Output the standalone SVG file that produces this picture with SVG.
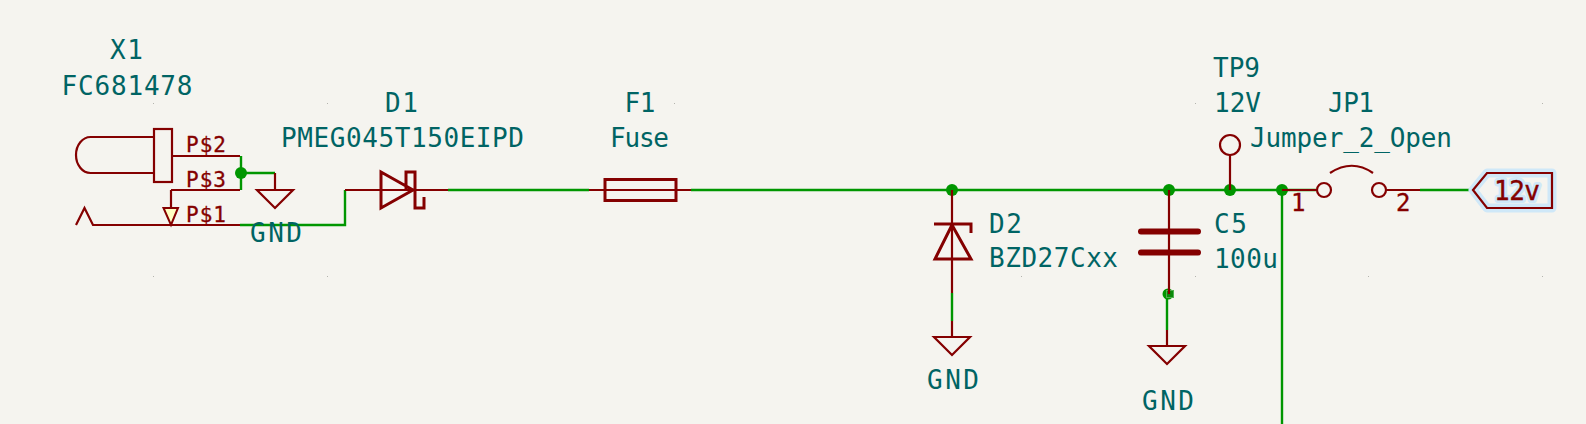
<svg xmlns="http://www.w3.org/2000/svg" width="1586" height="424" viewBox="0 0 1586 424">
<style>
.bg{fill:#f5f4ef}
.grid{fill:#b4b4ae}
.w{fill:none;stroke:#009600;stroke-width:2.400}
.r{fill:none;stroke:#840000;stroke-width:2.200}
.b{fill:none;stroke:#840000;stroke-width:3}
.j{fill:#009600}
text{font-family:"DejaVu Sans Mono","Liberation Mono",monospace}
.t{fill:#006464;font-size:26px}
.p{fill:#840000;font-size:21px;stroke:#840000;stroke-width:.3px}
.n{fill:#840000;font-size:24px;stroke:#840000;stroke-width:.3px}
.h{fill:none;stroke:#cfe8f8;stroke-width:9;stroke-linejoin:round}
.ht{fill:none;stroke:#cfe8f8;stroke-width:6;stroke-linejoin:round;font-size:26px}
.l{fill:#840000;font-size:26px;stroke:#840000;stroke-width:.4px}
</style>
<defs>
<path id="gnd" class="r" d="M-18 0H18L0 18Z"/>
</defs>
<rect class="bg" width="1586" height="424"/>
<path class="grid" d="M153 103h1v1h-1zM327 103h1v1h-1zM674 103h1v1h-1zM1195 103h1v1h-1zM1542 103h1v1h-1zM153 276h1v1h-1zM327 276h1v1h-1zM1021 276h1v1h-1zM1195 276h1v1h-1zM1368 276h1v1h-1zM1542 276h1v1h-1z"/>
<g id="connectors">
<path class="w" d="M241 156V190M241 173H275M240 225H345V190M448 190H589M691 190H1316M952 293V321M1167 294V330M1282 190V424M1420 190H1473"/>
<circle class="j" cx="241" cy="173" r="6"/>
<circle class="j" cx="952" cy="190" r="6"/>
<circle class="j" cx="1169" cy="190" r="6"/>
<circle class="j" cx="1230" cy="190" r="6"/>
<circle class="j" cx="1282" cy="190" r="6"/>
<circle class="j" cx="1168" cy="294" r="5.500"/>
<rect x="1166.500" y="290.500" width="7" height="7" fill="#0a8a0a" stroke="#4fb04f"/>
</g>
<g id="X1">
<rect class="r" x="154" y="129" width="18" height="53"/>
<path class="r" d="M154 137H90.500A14.500 18 0 0 0 90.500 173H154"/>
<path class="r" d="M172 156H240M171 190H240M171 190V225M76 225L84.500 208L93 225H240"/>
<path d="M163.500 208H178L171 225Z" fill="#ffffc2" stroke="#840000" stroke-width="2"/>
<text class="t" x="110" y="59" textLength="33">X1</text>
<text class="t" x="61.500" y="95" textLength="131">FC681478</text>
<text class="p" x="186" y="152" textLength="40">P$2</text>
<text class="p" x="186" y="187" textLength="40">P$3</text>
<text class="p" x="186" y="222" textLength="40">P$1</text>
</g>
<g id="GND1">
<path class="r" d="M275 173V190"/>
<use href="#gnd" x="275" y="190"/>
<text class="t" x="250" y="242" textLength="52">GND</text>
</g>
<g id="D1">
<path class="r" d="M345 190H448"/>
<path class="b" d="M381 172V208L413 190ZM406 190V172H415V208H424V197"/>
<text class="t" x="385" y="112" textLength="33">D1</text>
<text class="t" x="281" y="147" textLength="243">PMEG045T150EIPD</text>
</g>
<g id="F1">
<path class="r" d="M589 190H691"/>
<rect class="b" x="605" y="179.500" width="71" height="21"/>
<text class="t" x="624.500" y="112" textLength="31">F1</text>
<text class="t" x="610" y="147" textLength="59">Fuse</text>
</g>
<g id="D2">
<path class="r" d="M952 190V293M952 321V337"/>
<path class="b" d="M934 224H971V233M952 225L935 259H971Z"/>
<use href="#gnd" x="952" y="337"/>
<text class="t" x="989" y="233" textLength="33">D2</text>
<text class="t" x="989" y="267" textLength="129">BZD27Cxx</text>
<text class="t" x="927" y="389" textLength="52">GND</text>
</g>
<g id="C5">
<path class="r" d="M1169 190V294M1167 330V346"/>
<path d="M1141 231.500H1198M1141 252.500H1198" fill="none" stroke="#840000" stroke-width="6" stroke-linecap="round"/>
<use href="#gnd" x="1167" y="346"/>
<text class="t" x="1214" y="233" textLength="33">C5</text>
<text class="t" x="1214" y="268" textLength="64">100u</text>
<text class="t" x="1142" y="410" textLength="52">GND</text>
</g>
<g id="TP9">
<circle class="r" cx="1230" cy="145" r="10"/>
<path class="r" d="M1230 155V190"/>
<text class="t" x="1213" y="77" textLength="47">TP9</text>
<text class="t" x="1214" y="112" textLength="47">12V</text>
</g>
<g id="JP1">
<path class="r" d="M1282 190H1317M1387 190H1420"/>
<circle class="r" cx="1324" cy="190" r="7"/>
<circle class="r" cx="1379" cy="190" r="7"/>
<path class="r" d="M1330 173Q1352 158.500 1373 173"/>
<text class="t" x="1328" y="112" textLength="46">JP1</text>
<text class="t" x="1250" y="147" textLength="202">Jumper_2_Open</text>
<text class="n" x="1291" y="211">1</text>
<text class="n" x="1396" y="211">2</text>
</g>
<g id="label-12v">
<path class="h" d="M1473 190L1487 173H1552V208H1487Z"/>
<text x="1494" y="200" class="ht" textLength="46">12v</text>
<path class="r" d="M1473 190L1487 173H1552V208H1487Z"/>
<text x="1494" y="200" class="l" textLength="46">12v</text>
</g>
</svg>
